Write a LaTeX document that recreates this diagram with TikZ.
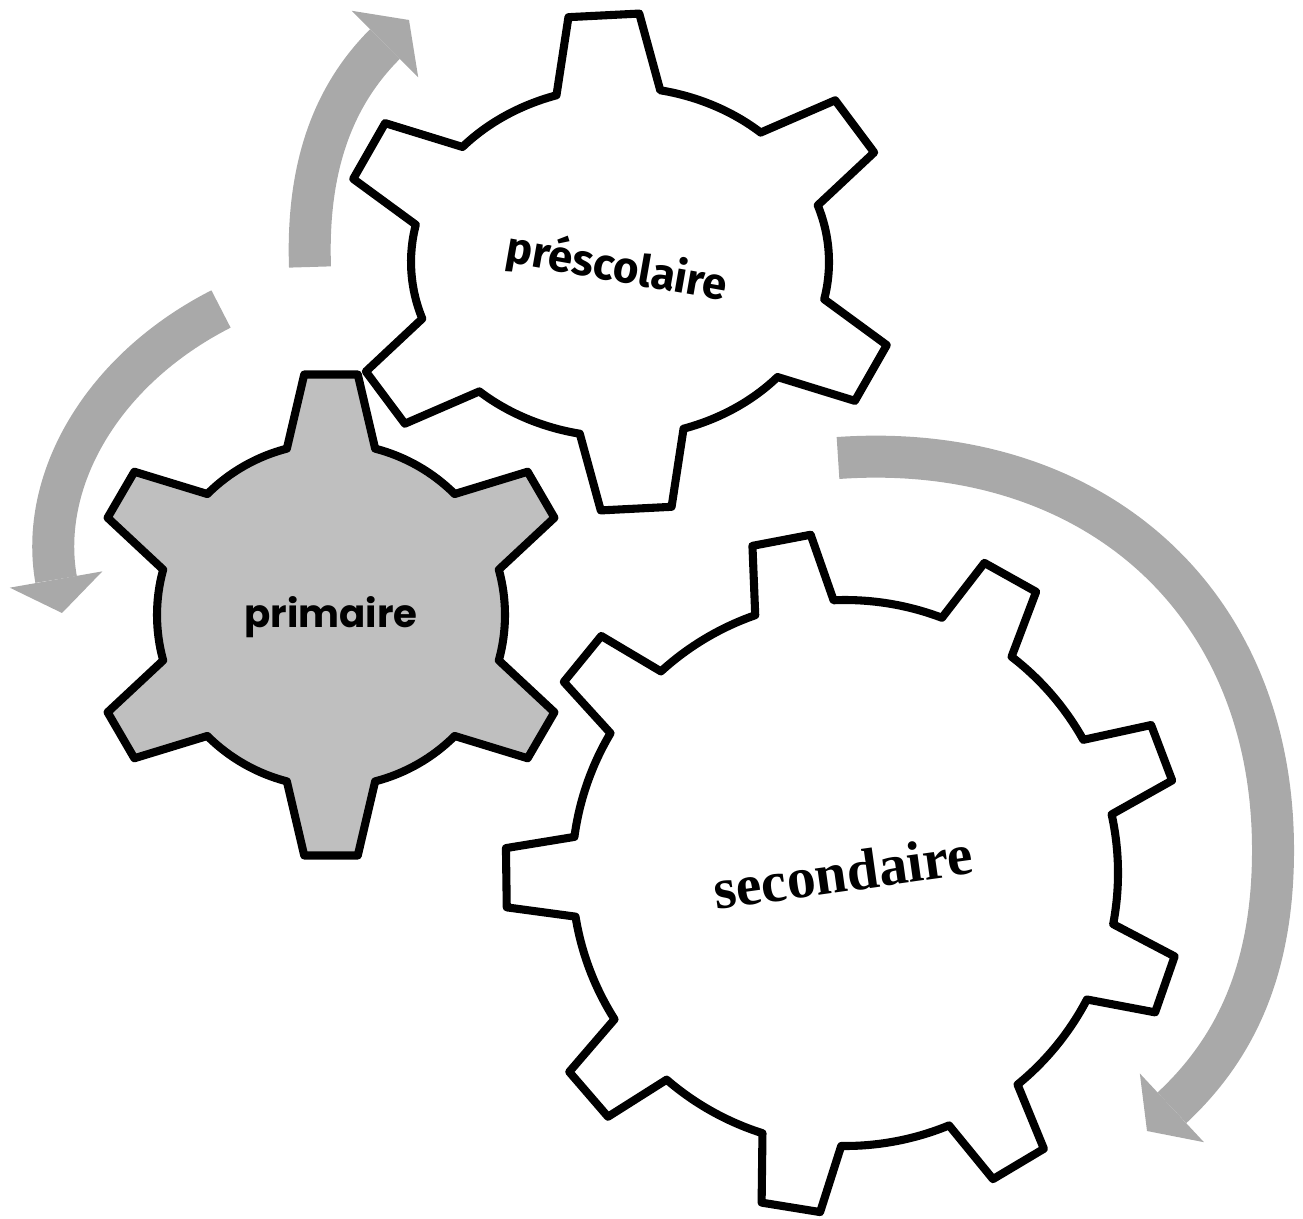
\documentclass[tikz,border=0pt]{standalone}
\usepackage{fontspec}
\usetikzlibrary{arrows.meta, positioning}
\newfontfamily\prefont{Fira Sans}
\newfontfamily\prifont{Poppins}
\newfontfamily\secfont{Liberation Serif}
\definecolor{arrowgray}{HTML}{A9A9A9}
\definecolor{geargray}{HTML}{BFBFBF}
\tikzset{
	% teeth / first tooth angle / x radius / y radius / tooth height / half root / half tip
	pics/gear/.style n args={7}{code={
		\draw [pic actions] ({#3*cos(#2-#6)},{#4*sin(#2-#6)})
			\foreach \k [evaluate=\k as \ang using #2+(\k-1)*360/#1] in {1,...,#1} {
				-- ({(#3+#5)*cos(\ang-#7)},{(#4+#5)*sin(\ang-#7)})
				-- ({(#3+#5)*cos(\ang+#7)},{(#4+#5)*sin(\ang+#7)})
				-- ({#3*cos(\ang+#6)},{#4*sin(\ang+#6)})
				arc [start angle=\ang+#6, end angle=\ang+360/#1-#6, x radius=#3, y radius=#4]
			} -- cycle;
	}},
	cog/.style={line width=2.3pt, fill=white},
	band/.style={draw=arrowgray, line width=0.42cm, ->}
}

\begin{document}
\begin{tikzpicture}[>={Triangle[width=0.94cm,length=0.34cm,line width=0pt]},line join=round]
	\useasboundingbox (0,0) rectangle (13.03,12.18);

	\coordinate (A) at (3.10,9.51);
	\coordinate (B) at (4.09,11.98);
	\coordinate (C) at (2.21,9.09);
	\coordinate (D) at (0.62,6.05);
	\coordinate (E) at (8.38,7.60);
	\coordinate (F) at (12.73,3.68);
	\coordinate (G) at (11.47,0.87);

	\draw [band] (A) to [out=92, in=225] (B);
	\draw [band] (C) to [out=207, in=100] (D);
	\draw [band] (E) to [out=4, in=90, looseness=1.1] (F) to [out=270, in=43] (G);

	\pic [cog] at (6.20,9.56) {gear={6}{93.3}{2.09}{1.75}{0.74}{14.4}{7.2}};
	\pic [cog, fill=geargray] at (3.31,6.03) {gear={6}{90}{1.74}{1.72}{0.70}{14.7}{6.3}};
	\pic [cog] at (8.45,3.45) {gear={9}{100.8}{2.73}{2.73}{0.67}{8.4}{5}};

	\node [rotate=-10] (Pre) at (6.17,9.50) {\prefont\bfseries\fontsize{12.5}{15}\selectfont préscolaire};
	\node (Pri) at (3.31,6.01) {\prifont\bfseries\fontsize{11}{13}\selectfont primaire};
	\node [rotate=8] (Sec) at (8.43,3.46) {\secfont\bfseries\fontsize{16.4}{19}\selectfont secondaire};
\end{tikzpicture}
\end{document}
